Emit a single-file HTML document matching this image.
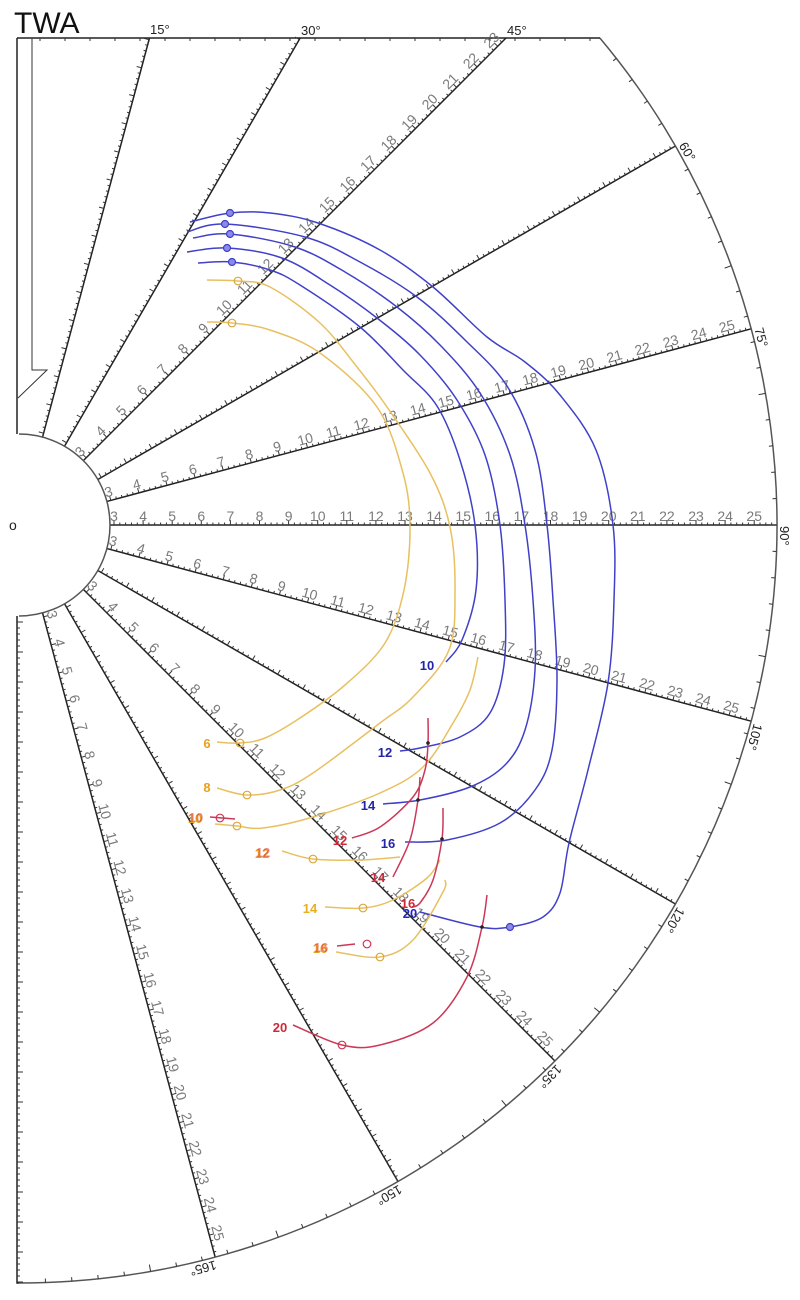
<!DOCTYPE html>
<html><head><meta charset="utf-8"><style>
html,body{margin:0;padding:0;background:#fff}
svg{display:block}
text{font-family:"Liberation Sans",sans-serif}
.nl text{font-size:14px;fill:#7a7a7a;text-anchor:middle}
</style></head><body>
<svg id="s" width="800" height="1300" viewBox="0 0 800 1300" xmlns="http://www.w3.org/2000/svg">
<rect width="800" height="1300" fill="#fff"/>
<g id="grid" stroke="#222" fill="none" stroke-width="1.5"></g>
<g id="ticks" stroke="#333" stroke-width="1"></g>
<text x="14" y="33" font-size="30" fill="#111">TWA</text>
<text x="9" y="530" font-size="14" fill="#222">o</text>
<g font-size="13" fill="#222">
<text x="150" y="34">15°</text><text x="301" y="35">30°</text><text x="507" y="35">45°</text>
</g>
<g id="deg" font-size="13" fill="#222">
<text class="d60">60°</text><text class="d75">75°</text><text class="d90">90°</text><text class="d105">105°</text><text class="d120">120°</text><text class="d135">135°</text><text class="d150">150°</text><text class="d165">165°</text>
</g>
<g class="nl a45"><text>3</text><text>4</text><text>5</text><text>6</text><text>7</text><text>8</text><text>9</text><text>10</text><text>11</text><text>12</text><text>13</text><text>14</text><text>15</text><text>16</text><text>17</text><text>18</text><text>19</text><text>20</text><text>21</text><text>22</text><text>23</text></g>
<g class="nl a75"><text>3</text><text>4</text><text>5</text><text>6</text><text>7</text><text>8</text><text>9</text><text>10</text><text>11</text><text>12</text><text>13</text><text>14</text><text>15</text><text>16</text><text>17</text><text>18</text><text>19</text><text>20</text><text>21</text><text>22</text><text>23</text><text>24</text><text>25</text></g>
<g class="nl a90"><text>3</text><text>4</text><text>5</text><text>6</text><text>7</text><text>8</text><text>9</text><text>10</text><text>11</text><text>12</text><text>13</text><text>14</text><text>15</text><text>16</text><text>17</text><text>18</text><text>19</text><text>20</text><text>21</text><text>22</text><text>23</text><text>24</text><text>25</text></g>
<g class="nl a105"><text>3</text><text>4</text><text>5</text><text>6</text><text>7</text><text>8</text><text>9</text><text>10</text><text>11</text><text>12</text><text>13</text><text>14</text><text>15</text><text>16</text><text>17</text><text>18</text><text>19</text><text>20</text><text>21</text><text>22</text><text>23</text><text>24</text><text>25</text></g>
<g class="nl a135"><text>3</text><text>4</text><text>5</text><text>6</text><text>7</text><text>8</text><text>9</text><text>10</text><text>11</text><text>12</text><text>13</text><text>14</text><text>15</text><text>16</text><text>17</text><text>18</text><text>19</text><text>20</text><text>21</text><text>22</text><text>23</text><text>24</text><text>25</text></g>
<g class="nl a165"><text>3</text><text>4</text><text>5</text><text>6</text><text>7</text><text>8</text><text>9</text><text>10</text><text>11</text><text>12</text><text>13</text><text>14</text><text>15</text><text>16</text><text>17</text><text>18</text><text>19</text><text>20</text><text>21</text><text>22</text><text>23</text><text>24</text><text>25</text></g>
<g id="curves" fill="none"></g>
<g id="marks"></g>
<g font-size="13" font-weight="bold" text-anchor="middle">
<text x="427" y="670" fill="#2424a8">10</text>
<text x="385" y="757" fill="#2424a8">12</text>
<text x="368" y="810" fill="#2424a8">14</text>
<text x="388" y="848" fill="#2424a8">16</text>
<text x="207" y="748" fill="#e8a020">6</text>
<text x="207" y="792" fill="#e8a020">8</text>
<text x="195" y="823" fill="#e8a020">10</text>
<text x="262" y="858" fill="#e8a020">12</text>
<text x="310" y="913" fill="#e8b020">14</text>
<text x="320" y="953" fill="#e8a020">16</text>
<text x="196" y="822" fill="#e04030" opacity="0.6">10</text>
<text x="263" y="857" fill="#e04030" opacity="0.6">12</text>
<text x="321" y="952" fill="#e04030" opacity="0.6">16</text>
<text x="340" y="845" fill="#d02838">12</text>
<text x="378" y="882" fill="#d02838">14</text>
<text x="408" y="908" fill="#d02838">16</text>
<text x="410" y="918" fill="#2424c8">20</text>
<text x="280" y="1032" fill="#d02838">20</text>
</g>
</svg>
<script>
(function(){
var NS="http://www.w3.org/2000/svg",cx=19,cy=525,R=758,H=91;
function P(t,r){var a=t*Math.PI/180;return [cx+r*Math.sin(a),cy-r*Math.cos(a)];}
function rn(n){return 7.7+29.1*n;}
function el(p,tag,at){var e=document.createElementNS(NS,tag);for(var k in at)e.setAttribute(k,at[k]);p.appendChild(e);return e;}
var g=document.getElementById('grid'),tk=document.getElementById('ticks');
var tp='';
function endR(t){return t<=45?(cy-38)/Math.cos(t*Math.PI/180):R;}
for(var t=15;t<=165;t+=15){
 var e=endR(t),a=P(t,H),b=P(t,e);
 el(g,'line',{x1:a[0],y1:a[1],x2:b[0],y2:b[1]});
 var pa=(t-90)*Math.PI/180,ux=Math.sin(pa),uy=-Math.cos(pa);
 for(var n=3;n<=26;n+=0.2){var r=rn(n);if(r>e-1)break;var q=P(t,r);
  var ni=Math.round(n*10)/10,L=(Math.abs(ni-Math.round(ni))<0.01)?5:(Math.abs(ni*2-Math.round(ni*2))<0.01?3.5:2.5);
  tp+='M'+q[0].toFixed(1)+' '+q[1].toFixed(1)+'l'+(ux*L).toFixed(1)+' '+(uy*L).toFixed(1);}
}
var a0=Math.acos(487/R)*180/Math.PI,s=P(a0,R),f=P(180,R);
el(g,'path',{d:'M'+s[0]+' '+s[1]+' A'+R+' '+R+' 0 0 1 '+f[0]+' '+f[1],stroke:'#555'});
for(var d=52;d<180;d+=2){var p1=P(d,R),p2=P(d,R-(d%10==0?7:4));tp+='M'+p1[0].toFixed(1)+' '+p1[1].toFixed(1)+'L'+p2[0].toFixed(1)+' '+p2[1].toFixed(1);}
el(g,'path',{d:'M19 434 A91 91 0 0 1 19 616',stroke:'#555'});
el(g,'path',{d:'M17 38H600M17 38V434M17 616V1283H19'});
el(g,'path',{d:'M32 38V370H47L18 398',stroke:'#333','stroke-width':1});
for(var y=622;y<1283;y+=6){var L=((y-622)%30==0)?6:3;tp+='M17 '+y+'h'+L;}
for(var x=40;x<600;x+=25){tp+='M'+x+' 38v3';}
el(tk,'path',{d:tp});
[45,75,90,105,135,165].forEach(function(t){
 var grp=document.querySelector('.a'+t);var ts=grp.querySelectorAll('text');
 for(var i=0;i<ts.length;i++){var n=parseInt(ts[i].textContent);var q=P(t,rn(n));
  ts[i].setAttribute('transform','translate('+q[0].toFixed(1)+','+q[1].toFixed(1)+') rotate('+(t-90)+')');
  ts[i].setAttribute('y','-4');}
});
[60,75,90,105,120,135,150,165].forEach(function(t){var e=document.querySelector('.d'+t);var q=P(t,R+3);
 e.setAttribute('transform','translate('+q[0].toFixed(1)+','+q[1].toFixed(1)+') rotate('+t+')');e.setAttribute('x','1');e.setAttribute('y','0');});
function cr(pts){var d='M'+pts[0][0]+' '+pts[0][1];for(var i=0;i<pts.length-1;i++){var p0=pts[i-1]||pts[i],p1=pts[i],p2=pts[i+1],p3=pts[i+2]||p2;
 d+='C'+(p1[0]+(p2[0]-p0[0])/6).toFixed(1)+' '+(p1[1]+(p2[1]-p0[1])/6).toFixed(1)+' '+(p2[0]-(p3[0]-p1[0])/6).toFixed(1)+' '+(p2[1]-(p3[1]-p1[1])/6).toFixed(1)+' '+p2[0]+' '+p2[1];}return d;}
var C=document.getElementById('curves'),M=document.getElementById('marks');
var BL='#4040c8',OR='#e8c060',RD='#cc3858';
var curves=[
[BL,[[198,263],[232,262],[270,270],[300,285],[360,327],[403,370],[437,406],[460,460],[475,525],[476,590],[462,640],[446,662]]],
[BL,[[187,252],[227,248],[282,258],[330,285],[377,318],[420,355],[457,400],[485,455],[500,525],[505,600],[504,665],[490,713],[460,737],[420,748],[400,751]]],
[BL,[[193,238],[230,234],[295,247],[345,272],[397,307],[440,345],[480,393],[510,455],[525,525],[533,600],[535,670],[525,730],[505,765],[470,787],[420,800],[383,804]]],
[BL,[[187,232],[225,224],[305,237],[360,262],[417,297],[465,340],[507,386],[535,450],[547,525],[553,600],[557,680],[552,750],[535,790],[500,823],[447,840],[405,842]]],
[BL,[[190,222],[230,213],[270,213],[318,223],[380,250],[433,287],[487,337],[525,362],[560,395],[596,450],[613,525],[614,600],[608,683],[588,770],[569,843],[560,893],[543,917],[510,927],[480,927],[420,912]]],
[OR,[[207,322],[232,323],[270,330],[320,353],[377,407],[403,473],[410,527],[404,590],[385,643],[345,685],[300,718],[265,738],[240,743],[217,742]]],
[OR,[[207,280],[238,281],[270,287],[320,323],[357,367],[387,407],[430,473],[450,527],[455,590],[449,650],[413,697],[380,723],[313,773],[280,790],[247,795],[217,788]]],
[OR,[[215,824],[237,826],[263,828],[313,817],[380,793],[423,767],[453,723],[470,690],[478,657]]],
[OR,[[282,851],[313,859],[360,860],[400,857]]],
[OR,[[325,907],[363,908],[393,900],[427,878],[440,860]]],
[OR,[[336,952],[380,957],[413,940],[443,892],[445,880]]],
[RD,[[210,817],[235,819]]],
[RD,[[352,838],[380,827],[413,797],[425,770],[428,743],[428,718]]],
[RD,[[393,877],[410,840],[418,800],[420,777]]],
[RD,[[412,907],[420,903],[433,880],[442,839],[443,808]]],
[RD,[[337,946],[355,944]]],
[RD,[[293,1025],[342,1045],[380,1045],[433,1023],[467,977],[482,927],[487,895]]]
];
curves.forEach(function(c){el(C,'path',{d:cr(c[1]),stroke:c[0],'stroke-width':1.5});});
[[230,213],[225,224],[230,234],[227,248],[232,262],[510,927]].forEach(function(p){el(M,'circle',{cx:p[0],cy:p[1],r:3.5,fill:'#8a8ae8',stroke:BL,'stroke-width':1.2});});
[[232,323],[238,281],[240,743],[247,795],[237,826],[313,859],[363,908],[380,957]].forEach(function(p){el(M,'circle',{cx:p[0],cy:p[1],r:3.8,fill:'none',stroke:'#d8a840','stroke-width':1.2});});
[[220,818],[367,944],[342,1045]].forEach(function(p){el(M,'circle',{cx:p[0],cy:p[1],r:3.8,fill:'none',stroke:RD,'stroke-width':1.2});});
[[428,743],[418,800],[442,839],[482,927]].forEach(function(p){el(M,'circle',{cx:p[0],cy:p[1],r:1.8,fill:'#222'});});
})();
</script>
</body></html>
